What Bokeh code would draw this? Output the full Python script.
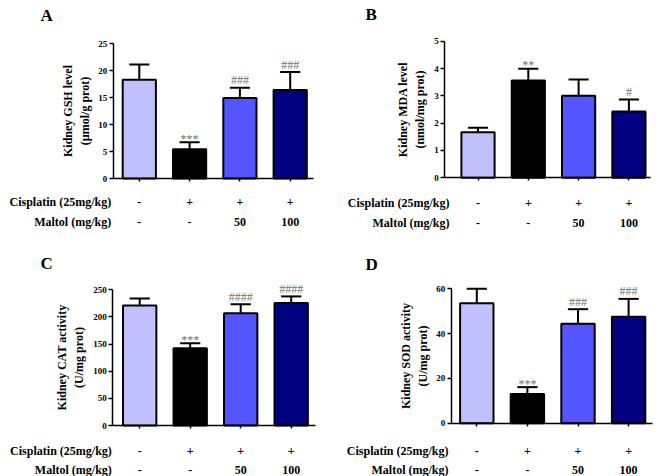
from bokeh.plotting import figure
from bokeh.models import Range1d, FixedTicker, Label
from bokeh.layouts import column, row
from bokeh.embed import file_html
from bokeh.resources import INLINE

# ---------------- data ----------------
groups = [1, 2, 3, 4]
cisplatin_row = ["-", "+", "+", "+"]
maltol_row = ["-", "-", "50", "100"]
row_names = ["Cisplatin (25mg/kg)", "Maltol (mg/kg)"]
bar_colors = ["#C0C0FF", "#000000", "#5555FF", "#000080"]

gsh_mean = [18.3, 5.4, 14.9, 16.4]
gsh_err = [2.8, 1.3, 1.9, 3.3]
gsh_sig = ["", "***", "###", "###"]
gsh_ticks = [0, 5, 10, 15, 20, 25]

mda_mean = [1.67, 3.56, 3.0, 2.43]
mda_err = [0.16, 0.43, 0.6, 0.44]
mda_sig = ["", "**", "", "#"]
mda_ticks = [0, 1, 2, 3, 4, 5]

cat_mean = [221.0, 142.5, 207.0, 225.5]
cat_err = [13.0, 9.2, 16.6, 12.3]
cat_sig = ["", "***", "####", "####"]
cat_ticks = [0, 50, 100, 150, 200, 250]

sod_mean = [53.6, 13.0, 44.4, 47.5]
sod_err = [6.4, 3.1, 6.5, 8.0]
sod_sig = ["", "***", "###", "###"]
sod_ticks = [0, 20, 40, 60]

FONT = "Liberation Serif"


def panel(letter, ylabel, mean, err, sig, ticks, geo, letter_pos, name_dx,
          row_dy):
    # geo: figure origin, size, y-axis x, x-axis end, first bar centre,
    # bar spacing, pixel of top tick, pixel of zero (layout pixels)
    ox, oy, W, H, axis_x, axis_end, c1, u, ytop, y0 = geo
    top = ticks[-1]
    v = (y0 - ytop) / top
    x_start = 1 - (c1 - ox) / u
    x_end = 1 + (ox + W - c1) / u
    xr0 = 1 - (c1 - axis_x) / u
    xr1 = 1 + (axis_end - c1) / u
    y_end = top + (ytop - oy) / v
    y_start = -(oy + H - y0) / v

    p = figure(width=W, height=H, output_backend="svg",
               toolbar_location=None,
               x_range=Range1d(x_start, x_end),
               y_range=Range1d(y_start, y_end),
               min_border_left=0, min_border_right=0,
               min_border_top=0, min_border_bottom=0)
    p.outline_line_color = None
    p.grid.visible = False
    p.background_fill_color = "white"
    p.border_fill_color = "white"

    # axes fixed inside the frame
    for ax in (p.xaxis[0], p.yaxis[0]):
        ax.axis_line_width = 1.5
        ax.axis_line_color = "black"
        ax.major_tick_line_width = 1.5
        ax.major_tick_line_color = "black"
        ax.major_tick_out = 4
        ax.major_tick_in = 0
        ax.minor_tick_line_color = None
    p.xaxis.fixed_location = 0
    p.xaxis.bounds = (xr0, xr1)
    p.xaxis.ticker = FixedTicker(ticks=groups)
    p.xaxis.major_label_text_font_size = "0px"
    p.xaxis.major_label_text_color = None
    p.xaxis.major_tick_out = 3
    p.yaxis.fixed_location = xr0
    p.yaxis.bounds = (0, top)
    p.yaxis.ticker = FixedTicker(ticks=ticks)
    p.yaxis.major_label_text_font = FONT
    p.yaxis.major_label_text_font_style = "bold"
    p.yaxis.major_label_text_font_size = "9px"
    p.yaxis.major_label_text_color = "black"
    p.yaxis.major_label_standoff = 2
    p.yaxis.axis_label = ylabel
    p.yaxis.axis_label_text_font = FONT
    p.yaxis.axis_label_text_font_style = "bold"
    p.yaxis.axis_label_text_font_size = "12px"
    p.yaxis.axis_label_text_color = "black"
    p.yaxis.axis_label_standoff = 4

    # bars
    p.vbar(x=groups, top=mean, width=0.66, bottom=0,
           fill_color=bar_colors, line_color="black", line_width=2)

    # error bars (upper only)
    tops = [m + e for m, e in zip(mean, err)]
    p.segment(x0=groups, y0=mean, x1=groups, y1=tops,
              line_color="black", line_width=2)
    p.segment(x0=[g - 0.2 for g in groups], y0=tops,
              x1=[g + 0.2 for g in groups], y1=tops,
              line_color="black", line_width=2)

    # significance marks
    for g, t, s in zip(groups, tops, sig):
        if not s:
            continue
        off = 3.5 if "*" in s else 7.5
        p.add_layout(Label(x=g, y=t, y_offset=off, text=s,
                           text_align="center", text_baseline="alphabetic",
                           text_font=FONT, text_font_size="12px",
                           text_color="#707070"))

    # panel letter
    p.add_layout(Label(x=xr0, y=top, x_offset=letter_pos[0],
                       y_offset=letter_pos[1], text=letter,
                       text_align="left", text_baseline="alphabetic",
                       text_font=FONT, text_font_style="bold",
                       text_font_size="17px", text_color="black"))

    # treatment rows
    for name, vals, dy in zip(row_names, (cisplatin_row, maltol_row), row_dy):
        p.add_layout(Label(x=xr0, y=0, x_offset=name_dx, y_offset=dy,
                           text=name, text_align="right",
                           text_baseline="alphabetic",
                           text_font=FONT, text_font_style="bold",
                           text_font_size="12px", text_color="black"))
        for g, val in zip(groups, vals):
            p.add_layout(Label(x=g, y=0, y_offset=dy, text=val,
                               text_align="center", text_baseline="alphabetic",
                               text_font=FONT, text_font_style="bold",
                               text_font_size="12px", text_color="black"))
    return p


pa = panel("A", "Kidney GSH level\n(µmol/g prot)", gsh_mean, gsh_err, gsh_sig,
           gsh_ticks, (0, 0, 330, 236, 112.7, 313, 138.8, 50.3, 43, 178),
           (-72.7, 28), -2, (-23, -43))
pb = panel("B", "Kidney MDA level\n(nmol/mg prot)", mda_mean, mda_err, mda_sig,
           mda_ticks, (330, 0, 330, 236, 444.3, 650, 477.5, 50.3, 40.7, 177.3),
           (-79.3, 26.7), 4.7, (-24.7, -44.7))
pc = panel("C", "Kidney CAT activity\n(U/mg prot)", cat_mean, cat_err, cat_sig,
           cat_ticks, (0, 236, 330, 240, 112.3, 315, 139.2, 50.5, 289.3, 425),
           (-72.3, 26.3), -1, (-25.7, -44.3))
pd_ = panel("D", "Kidney SOD activity\n(U/mg prot)", sod_mean, sod_err, sod_sig,
            sod_ticks, (330, 236, 330, 240, 450.7, 651.5, 476.3, 50.6, 288.3, 422.7),
            (-85.7, 24.3), -2.7, (-28, -46.6))

layout = column(row(pa, pb), row(pc, pd_))

open("out.html", "w").write(file_html(layout, INLINE))
